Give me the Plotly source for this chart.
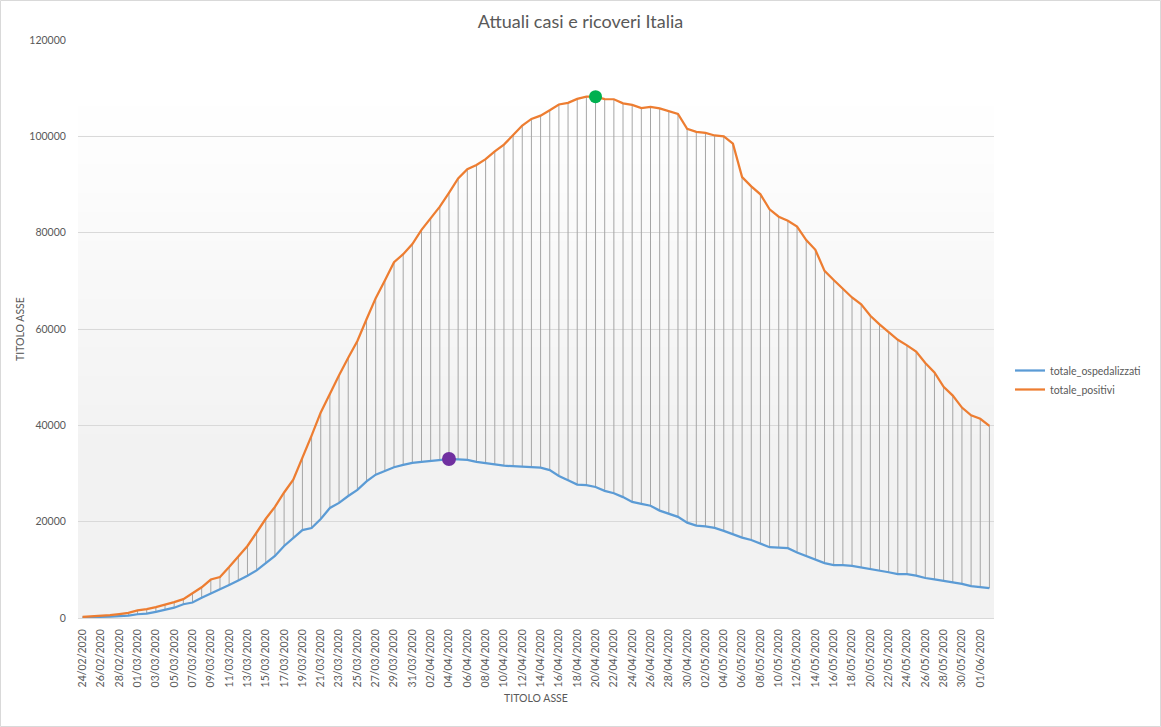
import plotly.graph_objects as go
import pandas as pd

# ---- data ----
start_date = "2020-02-24"
totale_positivi = [
    221, 311, 385, 588, 821, 1049, 1577, 1835, 2263, 2706,
    3296, 3916, 5061, 6387, 7985, 8514, 10590, 12839, 14955, 17750,
    20603, 23073, 26062, 28710, 33190, 37860, 42681, 46638, 50418, 54030,
    57521, 62013, 66414, 70065, 73880, 75528, 77635, 80572, 83049, 85388,
    88274, 91246, 93187, 94067, 95262, 96877, 98273, 100269, 102253, 103616,
    104291, 105418, 106607, 106962, 107771, 108257, 108237, 107709, 107699, 106848,
    106527, 105847, 106103, 105813, 105205, 104657, 101551, 100943, 100704, 100179,
    99980, 98467, 91528, 89624, 87961, 84842, 83324, 82488, 81266, 78457,
    76440, 72070, 70187, 68351, 66553, 65129, 62752, 60960, 59322, 57752,
    56594, 55300, 52942, 50966, 47986, 46175, 43691, 42075, 41367, 39893,
]
totale_ospedalizzati = [
    127, 150, 164, 304, 409, 506, 779, 908, 1263, 1641,
    2141, 2856, 3218, 4207, 5049, 5915, 6866, 7803, 8754, 9890,
    11335, 12876, 14954, 16620, 18255, 18675, 20565, 22855, 23896, 25333,
    26601, 28365, 29761, 30532, 31292, 31776, 32215, 32438, 32593, 32809,
    33004, 32926, 32809, 32411, 32090, 31896, 31623, 31500, 31350, 31300,
    31200, 30700, 29500, 28600, 27700, 27600, 27200, 26400, 25900, 25100,
    24100, 23700, 23300, 22300, 21600, 21000, 19800, 19200, 19000, 18700,
    18100, 17400, 16700, 16200, 15500, 14700, 14600, 14500, 13600, 12900,
    12200, 11400, 11000, 11000, 10800, 10500, 10100, 9800, 9500, 9100,
    9100, 8800, 8300, 8000, 7700, 7400, 7100, 6600, 6400, 6200,
]
highlight_positivi_date = "20/04/2020"
highlight_ospedalizzati_date = "04/04/2020"

dates = pd.date_range(start_date, periods=len(totale_positivi)).strftime("%d/%m/%Y").tolist()
tick_dates = dates[::2]

# ---- styles ----
FONT = "Lato, 'Liberation Sans', sans-serif"
TXT = "#595959"
BLUE = "#5B9BD5"
ORANGE = "#ED7D31"

fig = go.Figure()

# high-low lines
hx, hy = [], []
for d, lo, hi in zip(dates, totale_ospedalizzati, totale_positivi):
    hx += [d, d, None]
    hy += [lo, hi, None]
fig.add_trace(go.Scatter(x=hx, y=hy, mode="lines", line=dict(color="#a5a5a5", width=1),
                         showlegend=False, hoverinfo="skip"))

fig.add_trace(go.Scatter(x=dates, y=totale_ospedalizzati, mode="lines", name="totale_ospedalizzati",
                         line=dict(color=BLUE, width=2.25)))
fig.add_trace(go.Scatter(x=dates, y=totale_positivi, mode="lines", name="totale_positivi",
                         line=dict(color=ORANGE, width=2.25)))

ip = dates.index(highlight_positivi_date)
io = dates.index(highlight_ospedalizzati_date)
fig.add_trace(go.Scatter(x=[dates[ip]], y=[totale_positivi[ip]], mode="markers",
                         marker=dict(color="#00B050", size=13), showlegend=False))
fig.add_trace(go.Scatter(x=[dates[io]], y=[totale_ospedalizzati[io]], mode="markers",
                         marker=dict(color="#7030A0", size=14), showlegend=False))

# gradient plot background (bands)
shapes = []
n = 60
for i in range(n):
    t = (i + 0.5) / n  # 0 = top
    if t < 0.1:
        g = 255
    else:
        g = 255 - 13 * min(1.0, (t - 0.1) / 0.6)
    g = int(round(g))
    shapes.append(dict(type="rect", xref="paper", yref="paper", x0=0, x1=1,
                       y0=1 - (i + 1) / n, y1=1 - i / n + 0.002,
                       fillcolor=f"rgb({g},{g},{g})", line=dict(width=0), layer="below"))

L, R, T, B = 78, 167, 40, 109
W, H = 1161, 727
pw, ph = W - L - R, H - T - B
shapes.append(dict(type="rect", xref="paper", yref="paper",
                   x0=-(L - 0.5) / pw, x1=(W - 0.5 - L) / pw,
                   y0=-(B - 0.5) / ph, y1=(H - 0.5 - B) / ph,
                   line=dict(color="#d9d9d9", width=1), fillcolor="rgba(0,0,0,0)", layer="above"))

fig.update_layout(
    width=W, height=H,
    margin=dict(l=L, r=R, t=T, b=B),
    paper_bgcolor="white", plot_bgcolor="white",
    font=dict(family=FONT, color=TXT, size=10.5),
    title=dict(text="Attuali casi e ricoveri Italia", x=0.5, xref="container",
               y=1 - 22 / H, yref="container", xanchor="center", yanchor="middle",
               font=dict(family=FONT, size=18, color=TXT)),
    legend=dict(x=(1010 - L) / pw, y=(618 - 380) / ph, xanchor="left", yanchor="middle",
                bgcolor="rgba(0,0,0,0)", font=dict(size=10.5, color=TXT)),
    shapes=shapes,
    showlegend=True,
)
fig.update_xaxes(type="category", range=[-0.5, len(dates) - 0.5],
                 tickmode="array", tickvals=tick_dates, ticktext=tick_dates,
                 tickangle=-90, tickfont=dict(size=10.5, color=TXT),
                 ticks="outside", ticklen=6, tickcolor="rgba(0,0,0,0)",
                 showgrid=False, showline=True, linecolor="#d9d9d9", linewidth=1,
                 title=dict(text="TITOLO ASSE", font=dict(size=10.5, color=TXT), standoff=8))
fig.update_yaxes(range=[0, 120000], dtick=20000, tickformat="d",
                 tickfont=dict(size=10.5, color=TXT),
                 ticks="outside", ticklen=9, tickcolor="rgba(0,0,0,0)",
                 showgrid=True, gridcolor="#d9d9d9", gridwidth=1, zeroline=False,
                 showline=False,
                 title=dict(text="TITOLO ASSE", font=dict(size=10.5, color=TXT), standoff=2))

fig.write_html("out.html", config={"displayModeBar": False},
               post_script="document.body.style.margin='0';")
